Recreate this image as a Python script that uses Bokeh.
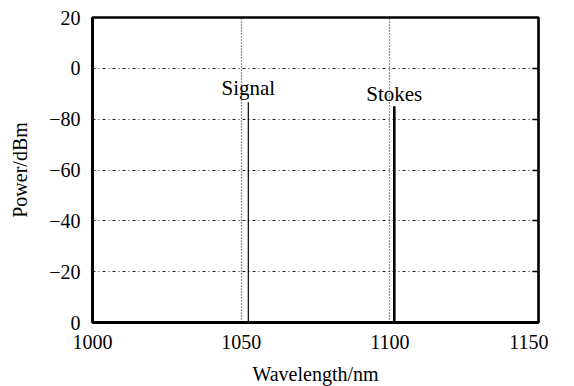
from bokeh.plotting import figure
from bokeh.models import FixedTicker, LinearAxis, Range1d, ColumnDataSource
from bokeh.embed import file_html
from bokeh.resources import INLINE
from bokeh.core.properties import value

# Data
line_names = ["Signal", "Stokes"]
wavelengths = [1052.4, 1101.5]
peak_levels = [86.7, 85.1]
label_levels = [92.3, 89.9]
line_widths = [1.2, 2.6]

x_ticks = [1000, 1050, 1100, 1150]
y_tick_positions = [0, 20, 40, 60, 80, 100, 120]
y_tick_labels = ["0", "\u221220", "\u221240", "\u221260", "\u221280", "0", "20"]

FONT = "Liberation Serif"

p = figure(frame_width=446, frame_height=305, output_backend="svg", toolbar_location=None,
           x_range=Range1d(1000, 1150), y_range=Range1d(0, 120),
           min_border_left=92, min_border_right=10, min_border_top=17,
           min_border_bottom=40)
p.background_fill_color = "white"
p.border_fill_color = "white"
p.outline_line_color = "black"
p.outline_line_width = 2.5

# axes
p.xaxis.ticker = FixedTicker(ticks=x_ticks)
p.yaxis.ticker = FixedTicker(ticks=y_tick_positions)
p.yaxis.major_label_overrides = {t: l for t, l in zip(y_tick_positions, y_tick_labels)}
for ax in (p.xaxis[0], p.yaxis[0]):
    ax.axis_line_width = 3
    ax.axis_line_color = "black"
    ax.major_tick_line_color = None
    ax.minor_tick_line_color = None
    ax.major_tick_out = 0
    ax.major_tick_in = 0
    ax.major_label_text_font = FONT
    ax.major_label_text_font_size = "20px"
    ax.major_label_text_color = "black"
    ax.axis_label_text_font = FONT
    ax.axis_label_text_font_size = "20px"
    ax.axis_label_text_font_style = "normal"
    ax.axis_label_text_color = "black"
p.xaxis.axis_label = "Wavelength/nm"
p.yaxis.axis_label = "Power/dBm"
p.xaxis.major_label_standoff = 12
p.xaxis.axis_label_standoff = 11
p.yaxis.major_label_standoff = 12
p.yaxis.axis_label_standoff = 15

# right axis with inward ticks
ra = LinearAxis(ticker=FixedTicker(ticks=[20, 40, 60, 80, 100]),
                major_label_text_font_size="0px", major_label_text_color=None,
                major_label_standoff=0,
                major_tick_in=6, major_tick_out=0, minor_tick_line_color=None,
                axis_line_color="black", axis_line_width=1.5,
                major_tick_line_color="black", major_tick_line_width=1.5)
p.add_layout(ra, "right")

# grids
p.xgrid.ticker = FixedTicker(ticks=[1050, 1100])
p.xgrid.grid_line_color = "#222222"
p.xgrid.grid_line_dash = "1 2"
p.xgrid.grid_line_width = 1.2
p.ygrid.ticker = FixedTicker(ticks=[20, 40, 60, 80, 100])
p.ygrid.grid_line_color = "#222222"
p.ygrid.grid_line_dash = "3 3 1 3"
p.ygrid.grid_line_width = 1

src = ColumnDataSource(dict(x=wavelengths, y0=[0, 0], y1=peak_levels,
                            lw=line_widths, name=line_names, ly=label_levels))
p.segment(x0="x", y0="y0", x1="x", y1="y1", source=src, line_color="black",
          line_width="lw")
p.text(x="x", y="ly", text="name", source=src, text_align="center",
       text_baseline="alphabetic", text_font=value(FONT),
       text_font_size="21px", text_color="black")

open("out.html", "w").write(file_html(p, INLINE))
